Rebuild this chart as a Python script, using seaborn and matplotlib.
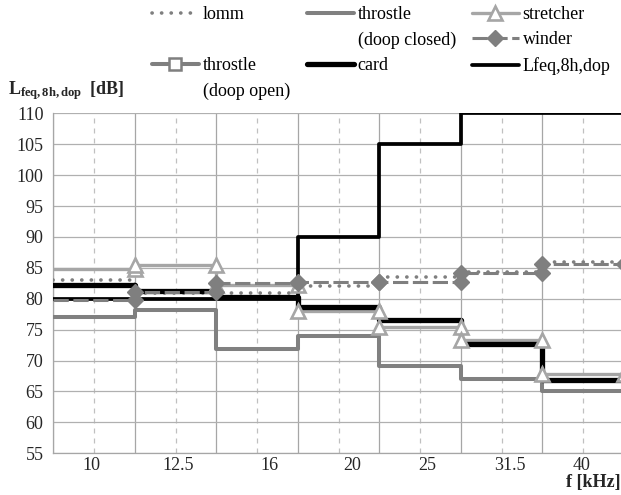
import matplotlib
matplotlib.use('Agg')
import matplotlib.pyplot as plt
import matplotlib.transforms as mtransforms
from matplotlib.lines import Line2D
import seaborn as sns
import numpy as np

# third-octave bands and levels per band (dB)
bands = ['10', '12.5', '16', '20', '25', '31.5', '40']
lomm = [83.1, 81.0, 81.0, 82.1, 83.5, 84.4, 86.0]
throstle_closed = [77.0, 78.2, 71.8, 74.0, 69.1, 67.1, 65.0]
stretcher = [84.8, 85.5, 82.2, 78.0, 75.5, 73.4, 67.8]
winder = [79.8, 81.1, 82.6, 82.7, 82.7, 84.1, 85.7]
card = [82.2, 81.3, 80.3, 78.6, 76.6, 72.7, 66.9]
lfeq_dop = [80, 80, 80, 90, 105, 110, 110]
y_ticks = list(range(55, 111, 5))

sns.set_theme(style='white')
plt.rcParams['font.family'] = ['Liberation Serif', 'DejaVu Serif']
plt.rcParams['mathtext.fontset'] = 'custom'
plt.rcParams['mathtext.rm'] = 'Liberation Serif'
plt.rcParams['mathtext.bf'] = 'Liberation Serif:bold'
plt.rcParams['mathtext.it'] = 'Liberation Serif:italic'

FS = 13
W, H = 621, 495
# the original labels sit slightly off the band centres (pixels)
label_shift = [-2.6, 3, 12, 13.7, 6.7, 8.3, -1.6]


def steps(vals):
    # each band drawn flat from its lower to its upper edge
    xs, ys = [], []
    for i, v in enumerate(vals):
        xs += [i - 0.5, i + 0.5]
        ys += [v, v]
    return xs, ys


fig = plt.figure(figsize=(W / 100, H / 100), dpi=100)
ax = fig.add_axes([53.3 / W, 41.7 / H, (623.8 - 53.3) / W, 340 / H])

series = [
    (lomm, dict(color='#7f7f7f', lw=2.6, ls=(0, (0.05, 2.6)), dash_capstyle='round', zorder=3), None),
    (throstle_closed, dict(color='#808080', lw=2.9, zorder=3), None),
    (stretcher, dict(color='#a6a6a6', lw=2.4, zorder=3),
     dict(marker='^', markersize=10, markerfacecolor='white', markeredgecolor='#a6a6a6',
          markeredgewidth=1.9)),
    (card, dict(color='black', lw=3.8, zorder=4), None),
    (lfeq_dop, dict(color='black', lw=2.7, zorder=4), None),
    (winder, dict(color='#7f7f7f', lw=2.2, ls=(0, (5, 1.5)), zorder=5),
     dict(marker='D', markersize=8.5, markerfacecolor='#7f7f7f', markeredgecolor='#7f7f7f',
          markeredgewidth=1)),
]
handles = []
for vals, kw, mk in series:
    xs, ys = steps(vals)
    sns.lineplot(x=xs, y=ys, ax=ax, estimator=None, sort=False, **kw)
    line = ax.lines[-1]
    if mk:
        # markers on top of every line, skipping the one on the axis edge
        sns.lineplot(x=xs[1:], y=ys[1:], ax=ax, estimator=None, sort=False,
                     color=kw['color'], linestyle='', zorder=6, **mk)
        line = Line2D([], [], color=kw['color'], lw=kw['lw'], ls=kw.get('ls', '-'), **mk)
    handles.append(line)
h_lomm, h_closed, h_str, h_card, h_lfeq, h_wind = handles
h_open = Line2D([], [], color='#7f7f7f', lw=2.9, marker='s', markersize=8,
                markerfacecolor='white', markeredgecolor='#7f7f7f', markeredgewidth=1.8)
blank = Line2D([], [], color='none')

ax.set_xlim(-0.5, 6.5)
ax.set_ylim(55, 110)
ax.set_yticks(y_ticks)
ax.set_yticklabels([str(v) for v in y_ticks], fontsize=FS)
ax.set_xticks(np.arange(-0.5, len(bands), 1))
ax.set_xticklabels([])
ax.set_xticks(np.arange(len(bands)), minor=True)
ax.set_xticklabels(bands, minor=True, fontsize=FS)
ax.tick_params(axis='x', which='major', direction='out', length=3, width=0.8, color='#a6a6a6')
ax.tick_params(axis='x', which='minor', length=0, pad=3)
ax.tick_params(axis='y', direction='out', length=3.6, width=0.8, color='#a6a6a6', pad=3.5)
for lab, dx in zip(ax.get_xticklabels(minor=True), label_shift):
    lab.set_transform(lab.get_transform() +
                      mtransforms.ScaledTranslation(dx / 100, 0, fig.dpi_scale_trans))

ax.grid(axis='y', color='#b0b0b0', lw=0.9)
ax.grid(axis='x', which='major', color='#a6a6a6', lw=0.9)
ax.grid(axis='x', which='minor', color='#c0c0c0', lw=0.9, ls=(0, (4, 4)))
ax.set_axisbelow(True)
for s in ['top', 'right']:
    ax.spines[s].set_visible(False)
for s in ['left', 'bottom']:
    ax.spines[s].set_color('#a6a6a6')
    ax.spines[s].set_linewidth(0.9)

leg_kw = dict(loc='upper left', frameon=False, fontsize=FS, borderpad=0, borderaxespad=0,
              handlelength=2.6, handletextpad=0.2, labelspacing=0.47,
              bbox_transform=fig.transFigure)
columns = [
    (152, [h_lomm, blank, h_open, blank], ['lomm', '', 'throstle', '(doop open)']),
    (307, [h_closed, blank, h_card, blank], ['throstle', '(doop closed)', 'card', '']),
    (472, [h_str, h_wind, h_lfeq, blank], ['stretcher', 'winder', 'Lfeq,8h,dop', '']),
]
for x0, hs, ls in columns:
    leg = fig.legend(hs, ls, bbox_to_anchor=(x0 / W, 1 - 6 / H), **leg_kw)
    for t in leg.get_texts():
        t.set_color('black')

fig.text(8 / W, 1 - 91 / H, r'$\mathbf{L_{feq,8h,dop}}$  [dB]', fontsize=FS,
         fontweight='bold', va='center', ha='left')
fig.text(621 / W, 1 - 482 / H, 'f [kHz]', fontsize=FS, fontweight='bold',
         va='center', ha='right')

fig.savefig('out.png', dpi=100)
